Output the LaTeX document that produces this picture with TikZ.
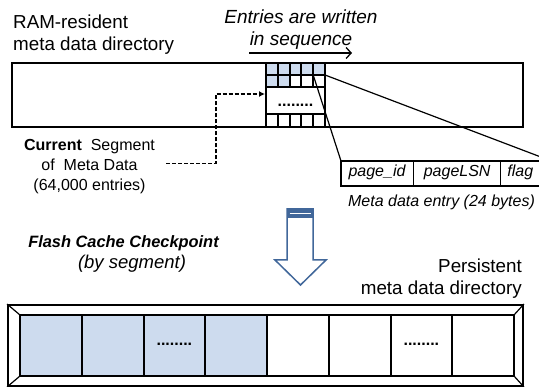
\documentclass[tikz,border=0pt]{standalone}
\usepackage{fontspec}
\setmainfont{Liberation Sans}
\usetikzlibrary{shapes.multipart}
\usetikzlibrary{positioning}
\usetikzlibrary{arrows.meta}
\definecolor{seg-fill}{HTML}{CDDBEE}
\definecolor{ckpt-blue}{HTML}{41679A}
\tikzset{
  dir-label/.style={font=\fontsize{18.8}{21.5}\selectfont, inner sep=0pt},
  note-label/.style={font=\fontsize{16}{20}\selectfont, inner sep=0pt},
  entry-cell/.style={draw=black, line width=2pt, minimum width=11.8pt, inner sep=0pt, outer sep=0pt},
  seg-cell/.style={draw=black, line width=2pt, minimum width=61.75pt, minimum height=61pt, inner sep=0pt, outer sep=0pt},
  dots/.style={font=\fontsize{16}{16}\selectfont\bfseries, inner sep=0pt, anchor=base},
  meta-entry/.style={
    rectangle split,
    rectangle split horizontal,
    rectangle split parts=3,
    draw=black,
    line width=1.2pt,
    font=\fontsize{16}{16}\selectfont\itshape,
    inner xsep=6pt, inner ysep=0pt, outer sep=0pt},
  seg-pointer/.style={line width=1.5pt, dash pattern=on 4pt off 2pt, -{Latex[length=6pt,width=6pt]}},
  seq-arrow/.style={line width=1.3pt, -{Straight Barb[length=5pt,width=11pt]}},
}
\newcommand{\entryfield}[3][c]{\makebox[#2][#1]{\rule[-9pt]{0pt}{25pt}#3}}

\begin{document}
\begin{tikzpicture}[x=1pt, y=-1pt]
\clip (0,0) rectangle (539,387);
% RAM-resident directory
\node[draw=black, line width=1.3pt, minimum width=511pt, minimum height=64pt, inner sep=0pt] (ram) at (267.5,95) {};
\node[dir-label, align=left, anchor=north west] (ram-lbl) at (13,15) {RAM-resident\\meta data directory};
\node[dir-label, font=\fontsize{19}{21.7}\selectfont\itshape, align=center, anchor=north] (seq-lbl) at (301,10) {Entries are written\\in sequence};
\coordinate (seq-from) at (249,53);
\coordinate (seq-to) at (352,53);
\draw[seq-arrow] (seq-from) -- (seq-to);
% current segment
\foreach \i in {1,...,5} {
  \node[entry-cell, minimum height=12pt, fill=seg-fill] (r1c\i) at (266+11.8*\i-5.9,69) {};
  \node[entry-cell, minimum height=13pt] (r3c\i) at (266+11.8*\i-5.9,120.5) {};
}
\foreach \i in {1,...,5} {
  \ifnum\i<3
    \node[entry-cell, minimum height=12pt, fill=seg-fill] (r2c\i) at (266+11.8*\i-5.9,81) {};
  \else
    \node[entry-cell, minimum height=12pt] (r2c\i) at (266+11.8*\i-5.9,81) {};
  \fi
}
\node[draw=black, line width=2pt, minimum width=59pt, minimum height=27pt, inner sep=0pt, fill=white] (mid) at (295.5,100.5) {};
\node[dots] (mid-dots) at ([yshift=-6.3pt]mid.center) {........};
\node[note-label, align=center, anchor=north] (cur) at (89.5,139) {\textbf{Current}\ \ Segment\\of\ \ Meta Data\\(64,000 entries)};
\draw[seg-pointer] ([xshift=11pt,yshift=3pt]cur.east) -| ([xshift=-49pt,yshift=6.5pt]mid.west) -- ([yshift=6.5pt]mid.west);
% one meta data entry
\node[meta-entry, anchor=north west] (entry) at (341,161) {\entryfield{60pt}{page\_id}\nodepart{two}\entryfield{74pt}{pageLSN}\nodepart{three}\entryfield[l]{38pt}{flag}};
\draw[line width=1.2pt] (r1c5.south west) -- (entry.north west);
\draw[line width=1.2pt] (r1c5.south east) -- (entry.north east);
\node[note-label, font=\fontsize{16}{20}\selectfont\itshape, anchor=north] (entry-lbl) at (441.5,195) {Meta data entry (24 bytes)};
% checkpoint arrow
\draw[line width=1.5pt, draw=ckpt-blue, fill=white, line join=miter] (287,209) -- (287,260) -- (275,260) -- (300.5,285) -- (326,260) -- (313,260) -- (313,209) -- cycle;
\fill[ckpt-blue] (287,209) rectangle (313,218);
\draw[white, line width=0.8pt] (289.5,213.5) -- (310.5,213.5);
\node[inner sep=0pt, font=\fontsize{16.4}{20}\selectfont\bfseries\itshape, anchor=north] (ckpt) at (123.5,235) {Flash Cache Checkpoint};
\node[inner sep=0pt, font=\fontsize{18.5}{20}\selectfont\itshape, anchor=north] (ckpt-sub) at (132,255) {(by segment)};
% persistent directory
\node[dir-label, align=right, anchor=north east] (pers-lbl) at (522,259) {Persistent\\meta data directory};
\node[draw=black, line width=1.8pt, minimum width=515pt, minimum height=81pt, inner sep=0pt] (pers) at (265.5,345.5) {};
\foreach \i in {1,...,8} {
  \ifnum\i<5
    \node[seg-cell, fill=seg-fill] (s\i) at (20+61.75*\i-30.875,345.5) {};
  \else
    \node[seg-cell] (s\i) at (20+61.75*\i-30.875,345.5) {};
  \fi
}
\node[dots] (s3-dots) at (s3.center) {........};
\node[dots] (s7-dots) at (s7.center) {........};
\draw[line width=1.2pt] (pers.north west) -- (s1.north west);
\draw[line width=1.2pt] (pers.south west) -- (s1.south west);
\draw[line width=1.2pt] (pers.north east) -- (s8.north east);
\draw[line width=1.2pt] (pers.south east) -- (s8.south east);
\end{tikzpicture}
\end{document}
